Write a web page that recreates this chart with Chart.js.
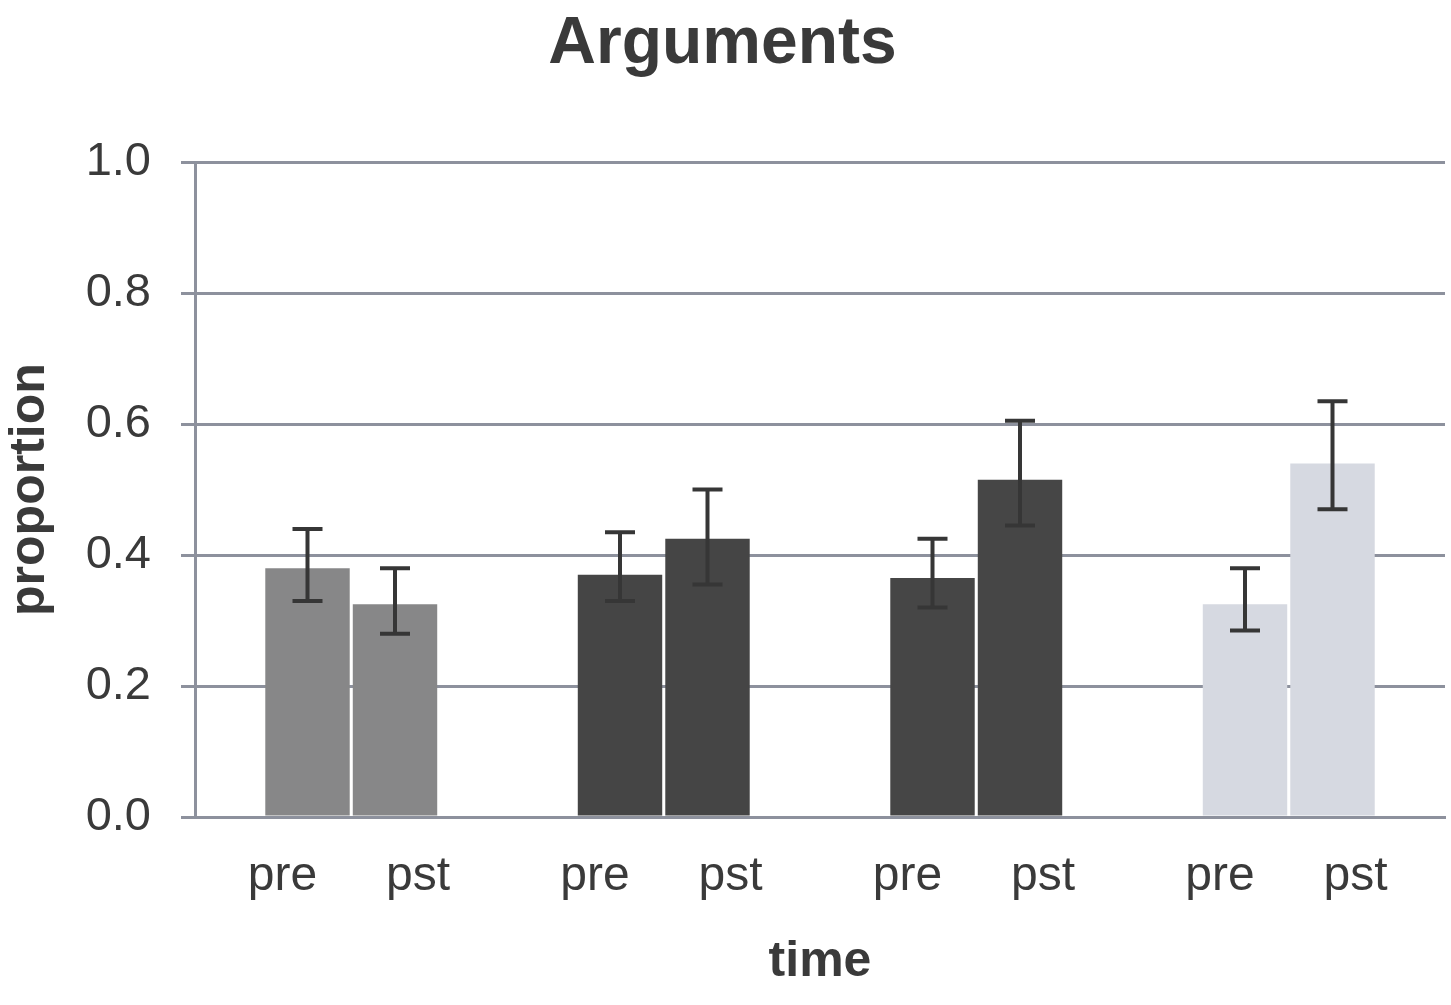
<!DOCTYPE html>
<html>
<head>
<meta charset="utf-8">
<script src="https://cdn.jsdelivr.net/npm/chart.js@4.4.0/dist/chart.umd.min.js"></script>
<style>
  html, body { margin: 0; padding: 0; background: #fff; }
  #wrap { width: 1451px; height: 1005px; }
</style>
</head>
<body>
<div id="wrap"><canvas id="chart" width="1451" height="1005"></canvas></div>
<script>
// 数据
const groups = ['g1', 'g2', 'g3', 'g4'];
const timeLabels = ['pre', 'pst'];
const preValues = [0.38, 0.37, 0.365, 0.325];
const pstValues = [0.325, 0.425, 0.515, 0.54];
const preErrHigh = [0.44, 0.435, 0.425, 0.38];
const preErrLow = [0.33, 0.33, 0.32, 0.285];
const pstErrHigh = [0.38, 0.50, 0.605, 0.635];
const pstErrLow = [0.28, 0.355, 0.445, 0.47];
const yTicks = [0, 0.2, 0.4, 0.6, 0.8, 1.0];

const groupColors = ['#878788', '#454545', '#464646', '#d6d9e1'];
const gridColor = '#8d919d';
const textColor = '#3a3a3a';
const fontFamily = '"Liberation Sans", Arial, sans-serif';

// 误差线插件
const errorBarPlugin = {
  id: 'errorBars',
  afterDatasetsDraw(chart) {
    const ctx = chart.ctx;
    const y = chart.scales.y;
    const errs = [[preErrLow, preErrHigh], [pstErrLow, pstErrHigh]];
    ctx.save();
    ctx.strokeStyle = '#363636';
    ctx.lineWidth = 4;
    chart.data.datasets.forEach((ds, di) => {
      const meta = chart.getDatasetMeta(di);
      meta.data.forEach((bar, i) => {
        const top = y.getPixelForValue(errs[di][1][i]);
        const bot = y.getPixelForValue(errs[di][0][i]);
        const x = bar.x;
        ctx.beginPath();
        ctx.moveTo(x, top); ctx.lineTo(x, bot);
        ctx.moveTo(x - 15, top); ctx.lineTo(x + 15, top);
        ctx.moveTo(x - 15, bot); ctx.lineTo(x + 15, bot);
        ctx.stroke();
      });
    });
    ctx.restore();
  }
};

// pre / pst 标签，画在每根柱子下面
const barLabelPlugin = {
  id: 'barLabels',
  afterDraw(chart) {
    const ctx = chart.ctx;
    const offsets = [-25, 23];
    ctx.save();
    ctx.fillStyle = textColor;
    ctx.font = '48px ' + fontFamily;
    ctx.textAlign = 'center';
    ctx.textBaseline = 'middle';
    chart.data.datasets.forEach((ds, di) => {
      chart.getDatasetMeta(di).data.forEach((bar) => {
        ctx.fillText(timeLabels[di], bar.x + offsets[di], chart.chartArea.bottom + 60);
      });
    });
    ctx.restore();
  }
};

new Chart(document.getElementById('chart'), {
  type: 'bar',
  data: {
    labels: groups,
    datasets: [
      { label: timeLabels[0], data: preValues, backgroundColor: groupColors },
      { label: timeLabels[1], data: pstValues, backgroundColor: groupColors }
    ]
  },
  options: {
    responsive: false,
    animation: false,
    devicePixelRatio: 1,
    layout: { padding: { left: 0, right: 6, top: 0, bottom: 0 } },
    categoryPercentage: 0.56,
    barPercentage: 0.965,
    plugins: {
      legend: { display: false },
      tooltip: { enabled: false },
      title: {
        display: true,
        text: 'Arguments',
        color: textColor,
        font: { family: fontFamily, size: 66, weight: 'bold' },
        padding: { top: 5, bottom: 78 }
      }
    },
    scales: {
      x: {
        grid: { display: false, drawTicks: false },
        border: { display: true, color: gridColor, width: 3 },
        ticks: { display: false },
        title: {
          display: true,
          text: 'time',
          color: textColor,
          font: { family: fontFamily, size: 50, weight: 'bold' },
          padding: { top: 0, bottom: 13 }
        },
        afterFit(scale) { scale.height = 188; }
      },
      y: {
        min: 0,
        max: 1,
        afterBuildTicks(scale) { scale.ticks = yTicks.map(v => ({ value: v })); },
        grid: { color: gridColor, lineWidth: 3, tickLength: 14, drawTicks: true },
        border: { display: true, color: gridColor, width: 3 },
        ticks: {
          color: textColor,
          font: { family: fontFamily, size: 47 },
          padding: 30,
          callback: v => v.toFixed(1)
        },
        title: {
          display: true,
          text: 'proportion',
          color: textColor,
          font: { family: fontFamily, size: 50, weight: 'bold' },
          padding: { top: 0, bottom: 0 }
        },
        afterFit(scale) { scale.width = 195; }
      }
    }
  },
  plugins: [errorBarPlugin, barLabelPlugin]
});
</script>
</body>
</html>
